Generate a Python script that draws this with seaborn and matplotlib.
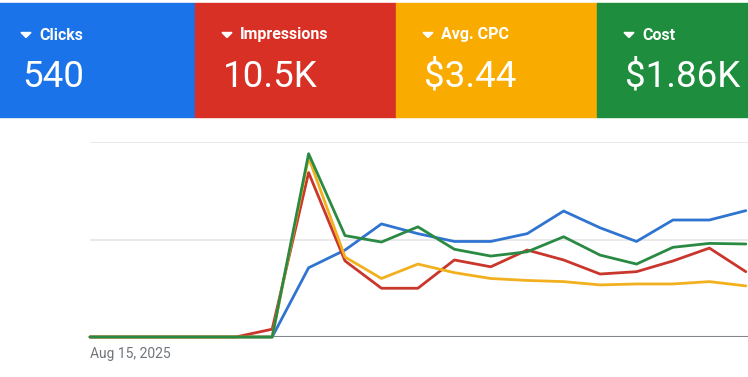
import numpy as np
import pandas as pd
import matplotlib
matplotlib.use("Agg")
import matplotlib.pyplot as plt
from matplotlib.patches import Rectangle, Polygon
import seaborn as sns

# --- data (relative scale: top gridline = 100, middle gridline = 50) ---
days = list(range(19))
tick_labels = ["Aug 15, 2025"]

metrics = ["Clicks", "Impressions", "Avg. CPC", "Cost"]
totals = ["540", "10.5K", "$3.44", "$1.86K"]
colors = ["#1a73e8", "#d93025", "#f9ab00", "#1e8e3e"]
line_colors = ["#2f74d0", "#c9362b", "#f2b01e", "#2a8a43"]

clicks      = [0, 0, 0, 0, 0, 0, 35.5, 44.6, 58.0, 53.0, 49.0, 49.0, 53.0, 64.6, 56.0, 49.0, 60.0, 60.0, 64.8]
impressions = [0, 0, 0, 0, 0, 4.0, 84.3, 39.0, 25.0, 25.0, 39.5, 36.0, 44.6, 39.5, 32.3, 33.5, 39.0, 45.6, 33.5]
avg_cpc     = [0, 0, 0, 0, 0, 0, 92.0, 41.0, 30.0, 37.4, 33.0, 30.0, 29.0, 28.4, 26.7, 27.2, 27.2, 28.4, 26.2]
cost        = [0, 0, 0, 0, 0, 0, 94.0, 52.0, 48.7, 56.5, 45.0, 41.5, 43.7, 51.4, 42.0, 37.4, 46.0, 48.0, 47.7]

series = [clicks, impressions, avg_cpc, cost]
df = pd.DataFrame({
    "day": days * len(metrics),
    "value": sum(series, []),
    "metric": sum([[m] * len(days) for m in metrics], []),
})

sns.set_style("white")
plt.rcParams["font.family"] = ["Roboto", "DejaVu Sans"]

W, H = 748, 377
fig = plt.figure(figsize=(W / 100, H / 100), dpi=100)


def px(x, y):
    # pixel position (from top-left) -> figure fraction
    return (x / W, 1 - y / H)


# --- metric tiles across the top ---
tile_left = [-6, 195, 396, 597]
tile_w = 201
tile_top, tile_bot = 3, 117
for i, m in enumerate(metrics):
    x0 = tile_left[i]
    fig.patches.append(Rectangle(px(x0, tile_bot), tile_w / W, (tile_bot - tile_top) / H,
                                 transform=fig.transFigure, color=colors[i], zorder=0))
    fig.patches.append(Polygon([px(x0 + 27, 32.5), px(x0 + 37, 32.5), px(x0 + 32, 37.5)],
                               closed=True, transform=fig.transFigure, color="white", zorder=1))
    fig.text(*px(x0 + 45, 35), m, color="white", fontsize=11.5, fontweight="semibold",
             va="center", ha="left")
    fig.text(*px(x0 + 28, 77), totals[i], color="white", fontsize=26.5,
             va="center", ha="left")

# --- line chart ---
ax = fig.add_axes([90 / W, (H - 337) / H, (W - 90) / W, 195 / H])
for y in [50, 100]:
    ax.axhline(y, color="#e3e3e3", lw=1.1, zorder=0)
ax.axhline(0, color="#80868b", lw=1.5, zorder=1)

sns.lineplot(data=df, x="day", y="value", hue="metric", hue_order=metrics,
             palette=dict(zip(metrics, line_colors)), linewidth=2.0, legend=False,
             ax=ax, clip_on=False, zorder=3)

ax.set_xlim(0, 18.06)
ax.set_ylim(0, 100)
ax.set_xticks([0])
ax.set_xticklabels(tick_labels, ha="left", color="#70757a", fontsize=10)
ax.tick_params(axis="x", length=0, pad=7)
ax.set_yticks([])
ax.set_xlabel("")
ax.set_ylabel("")
for s in ax.spines.values():
    s.set_visible(False)

fig.savefig("out.png", dpi=100)
